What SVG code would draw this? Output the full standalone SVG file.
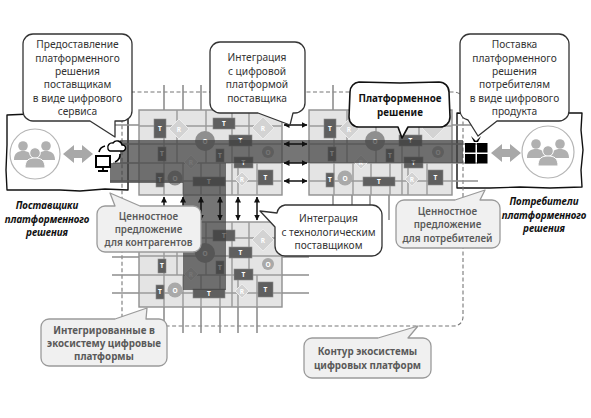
<svg xmlns="http://www.w3.org/2000/svg" width="591" height="418" viewBox="0 0 591 418">
<style>
text{font-family:"Noto Sans","Open Sans","Liberation Sans",sans-serif;text-anchor:middle}
.lb{font-size:10.2px;fill:#333}
.lg{font-size:9.8px;fill:#5a5a5a;font-weight:600}
.lgb{font-size:9.8px;fill:#5a5a5a;font-weight:700}
.bold{font-size:9.8px;fill:#111;font-weight:700}
.cap{font-size:9.8px;fill:#111;font-weight:700;font-style:italic}
.t{font-size:6.5px;fill:#fff;font-weight:700}
.mb{fill:#e4e4e4;stroke:#8f8f8f;stroke-width:1.4}
.ml{fill:none;stroke:#9a9a9a;stroke-width:1.4}
.st{fill:none;stroke:#8f8f8f;stroke-width:1.6}
.T{fill:#5f5f5f;stroke:#8a8a8a;stroke-width:.6}
.Ro{fill:#d3d3d3;stroke:#ececec;stroke-width:1}
.Oo{fill:#8f8f8f}
.Od{fill:#a9a9a9}
.ar{fill:none;stroke:#111;stroke-width:1.5;marker-end:url(#h)}
.ar2{fill:none;stroke:#111;stroke-width:1.5;marker-end:url(#h);marker-start:url(#hs)}
.cw{fill:#fff;stroke:#333;stroke-width:1.3;stroke-linejoin:round}
.cb{fill:#fff;stroke:#111;stroke-width:1.6;stroke-linejoin:round}
.cg{fill:#f0f0f0;stroke:#9a9a9a;stroke-width:1.3;stroke-linejoin:round}
.box{fill:#fff;stroke:#111;stroke-width:1.4;stroke-linejoin:round}
.dash{fill:none;stroke:#777;stroke-width:1.1;stroke-dasharray:4 2.5}
.ic{fill:#b0b0b0}
.ich{fill:#b0b0b0;stroke:#fff;stroke-width:1}
</style>
<defs>
<marker id="h" markerWidth="7" markerHeight="7" refX="5.5" refY="3" orient="auto" markerUnits="userSpaceOnUse"><path d="M0,0L6,3L0,6z" fill="#111"/></marker>
<marker id="hs" markerWidth="7" markerHeight="7" refX="0.5" refY="3" orient="auto" markerUnits="userSpaceOnUse"><path d="M6,0L0,3L6,6z" fill="#111"/></marker>
</defs>
<rect width="591" height="418" fill="#fff"/>

<g id="supplier-box"><path class="box" d="M7,115 L30,114 L60,115 L95,114 L128,115 L128,140 L128,165 L128,190 L105,189 L80,191 L60,190 L35,190 L7,190 L6,170 L7,145 Z"/></g>
<g id="consumer-box"><path class="box" d="M457,113 L490,114 L530,113 L582,113 L581,130 L583,150 L581,170 L582,187 L550,188 L520,187 L490,188 L457,188 Z"/></g>
<rect class="dash" x="122" y="92" width="341" height="234" rx="9"/>

<g id="connectors">
<path class="st" d="M164,85V110M183,85V110M201,85V110M333,85V110M113,125H139M113,144H139M113,163H139M110,181H139M452,125H478M452,144H478M452,163H478M452,181H478M112,257H139M112,275H139M112,293H139M282,257H309M282,275H309M282,293H309M164,307V333M183,307V333M201,307V333M220,307V333M238,307V333M257,307V333M333,195V220M352,195V220M370,195V220M389,195V220"/>
</g>

<g id="module-a" transform="translate(139,110)">
<rect class="mb" width="143" height="85"/>
<path class="ml" d="M0,16H143M0,34H143M0,53H143M0,71H143M38,0V53M67,0V53M93,0V85M110,0V53M25,16V85M44,53V85M62,53V85M81,53V85M99,53V85M118,53V85"/>
<path class="Ro" d="M40,9L50,19L40,29L30,19z"/><text class="t" x="40" y="21.500">R</text>
<path class="Ro" d="M124,7L135,18L124,29L113,18z"/><text class="t" x="124" y="20.500">R</text>
<path class="Ro" d="M52,45L59,52L52,59L45,52z"/><text class="t" x="52" y="54.500">R</text>
<path class="Ro" d="M103,62L110,69L103,76L96,69z"/><text class="t" x="103" y="71.500">R</text>
<circle class="Oo" cx="66" cy="31" r="10"/><text class="t" x="66" y="33.500">O</text>
<circle class="Od" cx="129" cy="42" r="6"/><text class="t" x="129" y="44.500">O</text>
<circle class="Oo" cx="36" cy="68" r="7.500"/><text class="t" x="36" y="70.500">O</text>
<rect class="T" x="15" y="9" width="12" height="19"/><text class="t" x="21" y="21">T</text>
<rect class="T" x="74" y="8" width="22" height="11"/><text class="t" x="85" y="16">T</text>
<rect class="T" x="90" y="25" width="23" height="11"/><text class="t" x="101.500" y="33">T</text>
<rect class="T" x="19" y="37" width="8" height="14"/><text class="t" x="23" y="46">T</text>
<rect class="T" x="77" y="39" width="8" height="13"/><text class="t" x="81" y="48">T</text>
<rect class="T" x="95" y="47" width="19" height="11"/><text class="t" x="104.500" y="55">T</text>
<rect class="T" x="17" y="63" width="8" height="14"/><text class="t" x="21" y="72">T</text>
<rect class="T" x="54" y="67" width="32" height="9"/><text class="t" x="70" y="74">T</text>
<rect class="T" x="119" y="60" width="15" height="15"/><text class="t" x="126.500" y="70">T</text>
</g>

<g id="module-b" transform="translate(309,110)">
<rect class="mb" width="143" height="85"/>
<path class="ml" d="M0,16H143M0,34H143M0,53H143M0,71H143M38,0V53M67,0V53M93,0V85M110,0V53M25,16V85M44,53V85M62,53V85M81,53V85M99,53V85M118,53V85"/>
<path class="Ro" d="M40,9L50,19L40,29L30,19z"/><text class="t" x="40" y="21.500">R</text>
<path class="Ro" d="M124,7L135,18L124,29L113,18z"/>
<path class="Ro" d="M52,45L59,52L52,59L45,52z"/><text class="t" x="52" y="54.500">R</text>
<path class="Ro" d="M103,62L110,69L103,76L96,69z"/><text class="t" x="103" y="71.500">R</text>
<circle class="Oo" cx="66" cy="31" r="10"/><text class="t" x="66" y="33.500">O</text>
<circle class="Od" cx="129" cy="42" r="6"/><text class="t" x="129" y="44.500">O</text>
<circle class="Od" cx="36" cy="68" r="7.500"/><text class="t" x="36" y="70.500">O</text>
<rect class="T" x="15" y="9" width="12" height="19"/><text class="t" x="21" y="21">T</text>
<rect class="T" x="90" y="25" width="23" height="11"/><text class="t" x="101.500" y="33">T</text>
<rect class="T" x="19" y="37" width="8" height="14"/><text class="t" x="23" y="46">T</text>
<rect class="T" x="77" y="39" width="8" height="13"/><text class="t" x="81" y="48">T</text>
<rect class="T" x="95" y="47" width="19" height="11"/><text class="t" x="104.500" y="55">T</text>
<rect class="T" x="17" y="63" width="8" height="14"/><text class="t" x="21" y="72">T</text>
<rect class="T" x="54" y="67" width="32" height="9"/><text class="t" x="70" y="74">T</text>
<rect class="T" x="119" y="60" width="15" height="15"/><text class="t" x="126.500" y="70">T</text>
</g>

<g id="module-c" transform="translate(139,222)">
<rect class="mb" width="143" height="85"/>
<path class="ml" d="M0,16H143M0,34H143M0,53H143M0,71H143M38,0V53M67,0V53M93,0V85M110,0V53M25,16V85M44,53V85M62,53V85M81,53V85M99,53V85M118,53V85"/>
<path class="Ro" d="M124,7L135,18L124,29L113,18z"/><text class="t" x="124" y="20.500">R</text>
<path class="Ro" d="M52,45L59,52L52,59L45,52z"/><text class="t" x="52" y="54.500">R</text>
<path class="Ro" d="M103,62L110,69L103,76L96,69z"/><text class="t" x="103" y="71.500">R</text>
<circle class="Oo" cx="66" cy="31" r="10"/><text class="t" x="66" y="33.500">O</text>
<circle class="Od" cx="129" cy="42" r="6"/><text class="t" x="129" y="44.500">O</text>
<circle class="Od" cx="36" cy="68" r="7.500"/><text class="t" x="36" y="70.500">O</text>
<rect class="T" x="74" y="8" width="22" height="11"/><text class="t" x="85" y="16">T</text>
<rect class="T" x="90" y="25" width="23" height="11"/><text class="t" x="101.500" y="33">T</text>
<rect class="T" x="19" y="37" width="8" height="14"/><text class="t" x="23" y="46">T</text>
<rect class="T" x="77" y="39" width="8" height="13"/><text class="t" x="81" y="48">T</text>
<rect class="T" x="95" y="47" width="19" height="11"/><text class="t" x="104.500" y="55">T</text>
<rect class="T" x="17" y="63" width="8" height="14"/><text class="t" x="21" y="72">T</text>
<rect class="T" x="54" y="67" width="32" height="9"/><text class="t" x="70" y="74">T</text>
<rect class="T" x="119" y="60" width="15" height="15"/><text class="t" x="126.500" y="70">T</text>
</g>

<path id="value-band" d="M120,140H463V163H226V290H183V183H110V163H120Z" fill="#404040" fill-opacity=".72"/>

<g id="arrows">
<path class="ar2" d="M284,125H307"/><path class="ar2" d="M284,144H307"/><path class="ar2" d="M284,163H307"/><path class="ar2" d="M284,181H307"/>
<path class="ar" d="M164,220V197"/><path class="ar" d="M183,220V197"/>
<path class="ar2" d="M201,197V220"/><path class="ar2" d="M220,197V220"/><path class="ar2" d="M238,197V220"/><path class="ar2" d="M257,197V220"/>
</g>

<g id="suppliers">
<circle cx="35" cy="154" r="25" fill="#fff" stroke="#b5b5b5" stroke-width="1.2"/>
<circle class="ic" cx="23" cy="146" r="4.800"/><circle class="ic" cx="46" cy="146" r="4.800"/>
<path class="ic" d="M14,160c0,-7 4,-9 9,-9s9,2 9,9zM37,160c0,-7 4,-9 9,-9s9,2 9,9z"/>
<circle class="ich" cx="35" cy="153" r="5.300"/>
<path class="ich" d="M25,168c0,-8 4,-10 10,-10s10,2 10,10z"/>
</g>
<g id="consumers">
<circle cx="548" cy="152" r="26" fill="#fff" stroke="#b5b5b5" stroke-width="1.2"/>
<circle class="ic" cx="536" cy="144" r="4.800"/><circle class="ic" cx="560" cy="144" r="4.800"/>
<path class="ic" d="M527,158c0,-7 4,-9 9,-9s9,2 9,9zM551,158c0,-7 4,-9 9,-9s9,2 9,9z"/>
<circle class="ich" cx="548" cy="151" r="5.300"/>
<path class="ich" d="M538,166c0,-8 4,-10 10,-10s10,2 10,10z"/>
</g>
<path id="arrow-left" fill="#a8a8a8" d="M63,154L74,145V150H82V145L93,154L82,163V158H74V163Z"/>
<path id="arrow-right" fill="#a8a8a8" d="M491,153L502,144V149H510V144L521,153L510,162V157H502V162Z"/>

<g id="service-icon">
<rect x="96" y="156" width="14" height="11" fill="#fff" stroke="#000" stroke-width="2"/>
<path d="M103,167V170M98,171H108" stroke="#000" stroke-width="1.800" fill="none"/>
<path d="M108,149a4.500,4.500 0 0 1 5,-6a5,5 0 0 1 9,2a3,3 0 0 1 1,6h-13a3,3 0 0 1 -2,-2z" fill="#fff" stroke="#000" stroke-width="1.400"/>
<path d="M99,152a8,8 0 0 1 6,-6" fill="none" stroke="#000" stroke-width="1.600"/>
<path d="M120,154a8,8 0 0 1 -5,8" fill="none" stroke="#000" stroke-width="1.600"/>
</g>
<g id="product-icon" fill="#000">
<rect x="465" y="143" width="10.500" height="9.500"/><rect x="477" y="143" width="10.500" height="9.500"/>
<rect x="465" y="154" width="10.500" height="9.500"/><rect x="477" y="154" width="10.500" height="9.500"/>
<path d="M471,136L476,141L481,136L478,142H474Z"/>
</g>

<g id="callout-service">
<path class="cw" d="M33,34H122a10,10 0 0 1 10,10V111a10,10 0 0 1 -10,10H115V137L90,121H33a10,10 0 0 1 -10,-10V44a10,10 0 0 1 10,-10Z"/>
<text class="lb" x="77.500" y="48">Предоставление</text>
<text class="lb" x="77.500" y="61.500">платформенного</text>
<text class="lb" x="77.500" y="75">решения</text>
<text class="lb" x="77.500" y="88">поставщикам</text>
<text class="lb" x="77.500" y="101.500">в виде цифрового</text>
<text class="lb" x="77.500" y="115">сервиса</text>
</g>
<g id="callout-integration">
<path class="cw" d="M220,42H295a10,10 0 0 1 10,10V103a10,10 0 0 1 -10,10H293L290,125L258,113H220a10,10 0 0 1 -10,-10V52a10,10 0 0 1 10,-10Z"/>
<text class="lb" x="257" y="61">Интеграция</text>
<text class="lb" x="257" y="74.500">с цифровой</text>
<text class="lb" x="257" y="88">платформой</text>
<text class="lb" x="257" y="101.500">поставщика</text>
</g>
<g id="callout-platform">
<path class="cb" d="M359,82L400,83L439,82a10,10 0 0 1 10,10L450,117a10,10 0 0 1 -10,10H408L402,138L398,127H359a10,10 0 0 1 -10,-10L350,92a10,10 0 0 1 9,-10Z"/>
<text class="bold" x="400" y="102">Платформенное</text>
<text class="bold" x="400" y="115.500">решение</text>
</g>
<g id="callout-product">
<path class="cw" d="M470,34H559a10,10 0 0 1 10,10V111a10,10 0 0 1 -10,10H497L478,136L468,120a10,10 0 0 1 -8,-9V44a10,10 0 0 1 10,-10Z"/>
<text class="lb" x="514.500" y="48">Поставка</text>
<text class="lb" x="514.500" y="61.500">платформенного</text>
<text class="lb" x="514.500" y="75">решения</text>
<text class="lb" x="514.500" y="88">потребителям</text>
<text class="lb" x="514.500" y="101.500">в виде цифрового</text>
<text class="lb" x="514.500" y="115">продукта</text>
</g>
<g id="callout-value-partners">
<path class="cg" d="M105,206H115L110,193L140,206H193a8,8 0 0 1 8,8V244a8,8 0 0 1 -8,8H105a8,8 0 0 1 -8,-8V214a8,8 0 0 1 8,-8Z"/>
<text class="lg" x="148.500" y="219.500">Ценностное</text>
<text class="lg" x="148.500" y="232.500">предложение</text>
<text class="lg" x="148.500" y="246">для контрагентов</text>
</g>
<g id="callout-tech">
<path class="cw" d="M285,205H372a10,10 0 0 1 10,10V246a10,10 0 0 1 -10,10H285a10,10 0 0 1 -10,-10V227L260,211L277,213a10,10 0 0 1 8,-8Z"/>
<text class="lb" x="328.500" y="222">Интеграция</text>
<text class="lb" x="328.500" y="235.500">с технологическим</text>
<text class="lb" x="328.500" y="249">поставщиком</text>
</g>
<g id="callout-value-consumers">
<path class="cg" d="M404,200H455L485,190L480,200H492a8,8 0 0 1 8,8V240a8,8 0 0 1 -8,8H404a8,8 0 0 1 -8,-8V208a8,8 0 0 1 8,-8Z"/>
<text class="lg" x="447.500" y="215">Ценностное</text>
<text class="lg" x="447.500" y="228">предложение</text>
<text class="lg" x="447.500" y="241.500">для потребителей</text>
</g>
<g id="callout-integrated">
<path class="cg" d="M49,319H115L147,308L146,319H159a8,8 0 0 1 8,8V358a8,8 0 0 1 -8,8H49a8,8 0 0 1 -8,-8V327a8,8 0 0 1 8,-8Z"/>
<text class="lgb" x="104" y="333.500">Интегрированные в</text>
<text class="lgb" x="104" y="346.500">экосистему цифровые</text>
<text class="lgb" x="104" y="360">платформы</text>
</g>
<g id="callout-contour">
<path class="cg" d="M312,338H378L418,326L408,338H423a8,8 0 0 1 8,8V370a8,8 0 0 1 -8,8H312a8,8 0 0 1 -8,-8V346a8,8 0 0 1 8,-8Z"/>
<text class="lgb" x="367.500" y="355">Контур экосистемы</text>
<text class="lgb" x="367.500" y="368.500">цифровых платформ</text>
</g>
<g id="caption-suppliers">
<text class="cap" x="47" y="209">Поставщики</text>
<text class="cap" x="47" y="222.500">платформенного</text>
<text class="cap" x="47" y="235.500">решения</text>
</g>
<g id="caption-consumers">
<text class="cap" x="544" y="205">Потребители</text>
<text class="cap" x="544" y="219">платформенного</text>
<text class="cap" x="544" y="232">решения</text>
</g>
</svg>
